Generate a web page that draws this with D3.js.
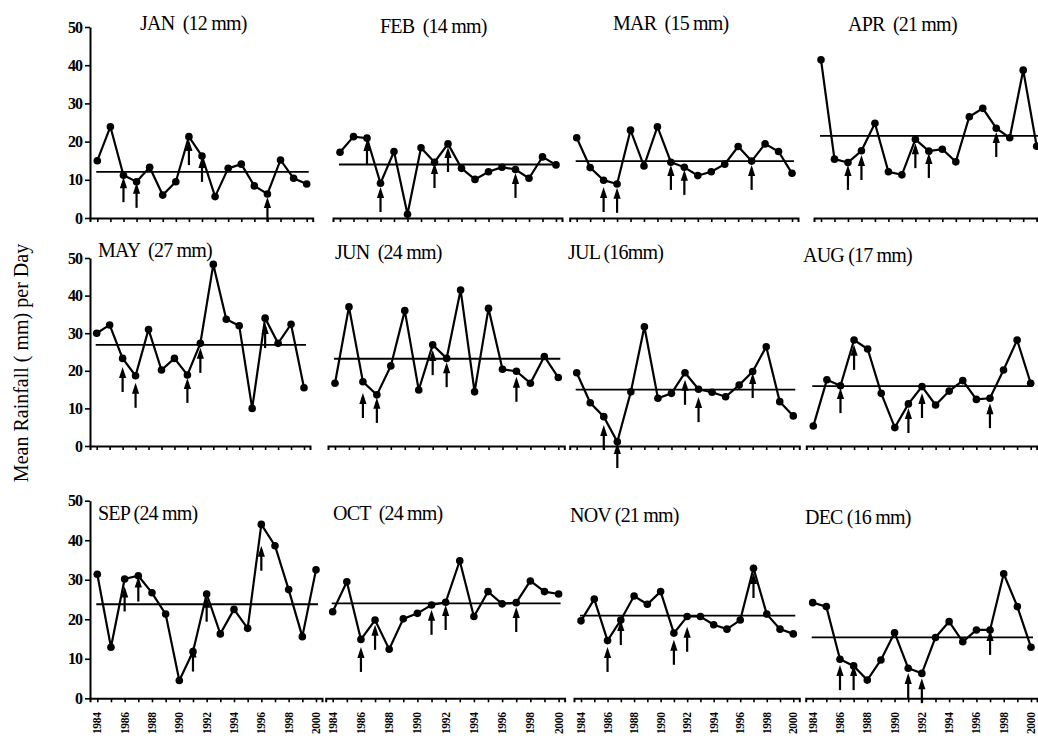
<!DOCTYPE html>
<html>
<head>
<meta charset="utf-8">
<script src="https://cdn.jsdelivr.net/npm/d3@7"></script>
<style>
body{margin:0;background:#fff;}
svg{display:block;}
text{font-family:"Liberation Serif","Times New Roman",serif;fill:#000;}
</style>
</head>
<body>
<svg id="chart" width="1038" height="745"></svg>
<script>
// data
const years=[1984,1985,1986,1987,1988,1989,1990,1991,1992,1993,1994,1995,1996,1997,1998,1999,2000];
const yearLabels=[1984,1986,1988,1990,1992,1994,1996,1998,2000];
const yTicks=[0,10,20,30,40,50];
const titles=["JAN  (12 mm)","FEB  (14 mm)","MAR  (15 mm)","APR  (21 mm)","MAY  (27 mm)","JUN  (24 mm)","JUL (16mm)","AUG (17 mm)","SEP (24 mm)","OCT  (24 mm)","NOV (21 mm)","DEC (16 mm)"];

const jan=[15.0,23.9,11.2,9.5,13.3,6.0,9.5,21.3,16.2,5.6,13.0,14.1,8.4,6.3,15.2,10.4,8.9];
const feb=[17.2,21.3,20.9,9.1,17.4,1.0,18.4,14.6,19.4,13.0,10.1,12.1,13.3,12.7,10.4,16.0,13.9];
const mar=[21.0,13.2,9.9,8.9,23.0,13.6,23.9,14.6,13.3,11.1,12.1,14.1,18.7,14.9,19.4,17.4,11.7];
const apr=[41.4,15.4,14.5,17.6,24.8,12.1,11.3,20.6,17.5,18.0,14.7,26.5,28.7,23.5,21.0,38.7,18.8];
const may=[30.0,32.2,23.3,18.7,31.0,20.2,23.3,18.9,27.3,48.3,33.7,32.0,10.0,34.0,27.3,32.4,15.5];
const jun=[16.7,37.0,17.1,13.6,21.3,36.0,14.9,26.9,23.3,41.5,14.4,36.6,20.4,19.9,16.7,23.8,18.2];
const jul=[19.5,11.5,7.8,1.1,14.4,31.7,12.7,14.0,19.5,15.1,14.3,13.1,16.2,19.8,26.4,11.8,8.0];
const aug=[5.3,17.6,16.0,28.2,25.8,14.0,4.9,11.2,15.8,10.9,14.6,17.4,12.4,12.7,20.2,28.2,16.7];
const sep=[31.4,12.9,30.2,31.0,26.7,21.3,4.5,11.8,26.4,16.3,22.5,17.7,44.0,38.6,27.5,15.6,32.5];
const oct=[21.9,29.5,14.9,19.8,12.4,20.1,21.5,23.6,24.3,34.8,20.7,27.0,23.9,24.2,29.7,27.0,26.4];
const nov=[19.6,25.1,14.6,19.8,25.9,23.8,27.0,16.5,20.7,20.7,18.6,17.5,19.8,32.9,21.3,17.5,16.3];
const dec=[24.2,23.2,9.9,8.2,4.6,9.7,16.6,7.6,6.3,15.4,19.4,14.3,17.3,17.3,31.5,23.2,12.9];
const series=[jan,feb,mar,apr,may,jun,jul,aug,sep,oct,nov,dec];

// mean line of each month as drawn
const means=[12.1,14.0,14.9,21.5,26.9,23.2,15.0,15.9,23.8,24.0,20.9,15.4];

// arrows: years and the value where the arrow head sits
const arrowYears=[
 [1986,1987,1991,1992,1997],[1986,1987,1991,1992,1997],[1986,1987,1991,1992,1997],[1986,1987,1991,1992,1997],
 [1986,1987,1991,1992,1997],[1986,1987,1991,1992,1997],[1986,1987,1992,1993,1997],[1986,1987,1991,1992,1997],
 [1986,1987,1991,1992,1996],[1986,1987,1991,1992,1997],[1986,1987,1991,1992,1997],[1986,1987,1991,1992,1997]];
const arrowTips=[
 [10.7,9.2,20.4,16.0,5.5],[20.4,8.1,14.4,18.6,11.8],[8.1,7.9,13.9,12.6,13.9],[13.9,16.5,19.6,17.0,22.5],
 [21.0,16.8,18.1,26.1,32.7],[14.1,12.8,25.5,22.3,18.4],[5.6,0.8,17.6,13.0,19.4],[15.4,26.9,10.1,14.1,11.4],
 [28.3,30.8,13.1,25.7,38.6],[13.0,18.6,22.4,23.6,23.1],[13.0,19.8,14.8,18.1,31.7],[8.4,8.4,6.4,5.1,17.3]];

/*################ layout ################*/
// x of 1984 and of 2000 in each panel
const panelX=[[97.3,306.7],[340,556],[576.7,792],[821,1036.7],
              [96.7,304],[335,558.3],[576.7,793.3],[813.3,1030.7],
              [97.3,316],[332.7,558.6],[581,793.3],[812.7,1031]];
// y of 0 and 50 in each row
const rowY=[[218,27],[446,258],[698.3,500.7]];
// title positions
const titlePos=[[140,30],[380,33],[613,30],[848,31],[98,257],[335,259],[568,259],[803,262],[98,520],[333,520],[570,522],[805,524]];

let svg=d3.select("#chart");

for(let i=0;i<12;i++){
    let row=Math.floor(i/4), col=i%4;
    let values=series[i];
    let x=d3.scaleLinear().domain([1984,2000]).range(panelX[i]);
    let y=d3.scaleLinear().domain([0,50]).range(rowY[row]);
    let g=svg.append("g");

    // bottom axis, a bit wider than the points
    let left=col===0?90:panelX[i][0]-7;
    let right=Math.min(panelX[i][1]+6,1037);
    let xa=d3.scaleLinear().domain([x.invert(left),x.invert(right)]).range([left,right]);
    let ax=g.append("g").attr("transform",`translate(0,${y(0)})`)
        .call(d3.axisBottom(xa).tickValues(years).tickSizeInner(4).tickSizeOuter(4).tickFormat(""));
    ax.select(".domain").attr("stroke-width",2);
    ax.selectAll(".tick line").attr("stroke-width",1.6);

    if(row===2){
        ax.selectAll(".yl").data(yearLabels).enter().append("text")
          .attr("class","yl")
          .attr("transform",d=>`translate(${xa(d)},14) rotate(-90)`)
          .attr("dy","0.35em")
          .attr("text-anchor","end")
          .style("font-size","11.5px").style("font-weight","bold").style("letter-spacing","-0.3px")
          .text(d=>d);
    }

    // left axis only on the first column
    if(col===0){
        let ay=g.append("g").attr("transform","translate(90,0)")
            .call(d3.axisLeft(y).tickValues(yTicks).tickSizeInner(5).tickSizeOuter(0).tickPadding(3));
        ay.select(".domain").attr("stroke-width",2);
        ay.selectAll(".tick line").attr("stroke-width",1.6);
        ay.selectAll(".tick text")
          .style("font-family","'Liberation Serif',serif")
          .style("font-size","16px").style("font-weight","bold").style("letter-spacing","-1px");
    }

    // mean line
    g.append("line")
     .attr("x1",x(1984)-1).attr("x2",x(2000)+2)
     .attr("y1",y(means[i])).attr("y2",y(means[i]))
     .attr("stroke","#000").attr("stroke-width",1.8);

    // rainfall series
    let line=d3.line().x((d,k)=>x(years[k])).y(d=>y(d));
    g.append("path").datum(values).attr("d",line)
     .attr("fill","none").attr("stroke","#000").attr("stroke-width",2.2);
    g.selectAll(".pt").data(values).enter().append("circle")
     .attr("class","pt")
     .attr("cx",(d,k)=>x(years[k])).attr("cy",d=>y(d)).attr("r",3.8).attr("fill","#000");

    // arrows pointing up
    for(let a=0;a<arrowYears[i].length;a++){
        let ax0=x(arrowYears[i][a]);
        let tip=y(arrowTips[i][a]);
        g.append("line").attr("x1",ax0).attr("x2",ax0)
         .attr("y1",tip+4).attr("y2",tip+25)
         .attr("stroke","#000").attr("stroke-width",2.2);
        g.append("path")
         .attr("d",`M${ax0},${tip} L${ax0-3.6},${tip+11} L${ax0+3.6},${tip+11} Z`)
         .attr("fill","#000");
    }

    // title
    svg.append("text")
       .attr("x",titlePos[i][0]).attr("y",titlePos[i][1])
       .style("font-size","20px").style("letter-spacing","-0.8px").style("white-space","pre")
       .text(titles[i]);
}

// y label
svg.append("text")
   .attr("transform","translate(28,363) rotate(-90)")
   .attr("text-anchor","middle")
   .style("font-size","20px")
   .text("Mean Rainfall ( mm) per Day");
</script>
</body>
</html>
